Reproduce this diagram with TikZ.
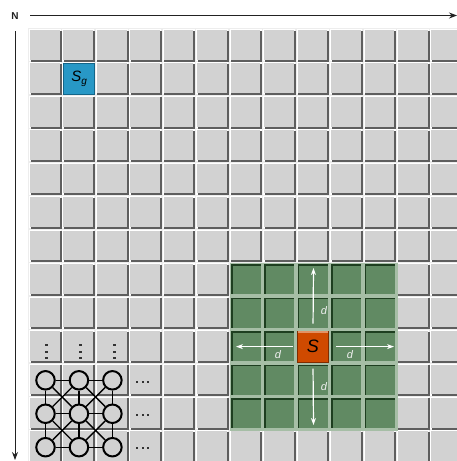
\documentclass[tikz,border=0pt]{standalone}
\usepackage{fontspec}
\setmainfont{Liberation Sans}
\usetikzlibrary{arrows.meta}
\definecolor{cellgray}{HTML}{D2D2D2}
\definecolor{cellshadow}{HTML}{5E5E5E}
\definecolor{gridbg}{HTML}{EDEDED}
\definecolor{greenfill}{HTML}{618A63}
\definecolor{greendark}{HTML}{1E3E20}
\definecolor{greenlight}{HTML}{A6BEA6}
\definecolor{sorange}{HTML}{CF4A00}
\definecolor{sorangedark}{HTML}{7E2C00}
\definecolor{sblue}{HTML}{2898C6}
\definecolor{sbluedark}{HTML}{146588}
\definecolor{axisgray}{HTML}{222222}
\pgfdeclarelayer{gridlayer}
\pgfdeclarelayer{edgelayer}
\pgfsetlayers{gridlayer,edgelayer,main}
\tikzset{
  axisline/.style={draw=axisgray, line width=1pt, -{Stealth[length=8pt,width=6pt]}},
  darrow/.style={draw=white, line width=1.2pt, -{Stealth[length=7pt,width=5pt]}},
  dlabel/.style={text=white!94!black, font=\fontsize{11}{11}\selectfont\itshape, inner sep=0pt},
  scell/.style={rectangle, minimum size=31pt, inner sep=0pt, fill=sorange, draw=sorangedark, line width=1pt, font=\fontsize{18}{18}\selectfont\itshape},
  sgcell/.style={rectangle, minimum size=31pt, inner sep=0pt, fill=sblue, draw=sbluedark, line width=1pt},
  gnode/.style={circle, minimum size=18.5pt, inner sep=0pt, fill=cellgray, draw=black, line width=2pt},
  gedge/.style={draw=black, line width=1.4pt},
  dotmark/.style={fill=black!80}
}
\begin{document}
\begin{tikzpicture}[x=1pt,y=-1pt]
\useasboundingbox (0,0) rectangle (457,461);
\begin{pgfonlayer}{gridlayer}
\fill[white] (0,0) rectangle (457,461);
\begin{scope}
\clip (0,0) rectangle (457,461);
\fill[gridbg] (28,28) rectangle (457,461);
\foreach \c in {0,...,12} {
  \foreach \r in {0,...,12} {
    \pgfmathsetmacro\x{29+\c*33.45}
    \pgfmathsetmacro\y{29+\r*33.45}
    \fill[white] (\x,\y) rectangle (\x+32,\y+32);
    \fill[cellshadow] (\x+1.5,\y+1.5) rectangle (\x+32.6,\y+32.6);
    \fill[cellgray] (\x+1,\y+1) rectangle (\x+30.6,\y+30.6);
  }
}
% green neighbourhood
\fill[greenlight] (229.7,263.15) rectangle (397.5,431);
\foreach \c in {6,...,10} {
  \foreach \r in {7,...,11} {
    \pgfmathsetmacro\x{29+\c*33.45}
    \pgfmathsetmacro\y{29+\r*33.45}
    \fill[greendark] (\x+1.3,\y+1.3) rectangle (\x+31,\y+31);
    \fill[greenfill] (\x+2.8,\y+2.8) rectangle (\x+31,\y+31);
  }
}
\end{scope}
\end{pgfonlayer}

% axes
\node[font=\fontsize{10}{10}\selectfont\bfseries, text=axisgray, inner sep=0pt] (N) at (15,16) {N};
\coordinate (hstart) at (30,15.5);
\coordinate (hend) at (457,15.5);
\coordinate (vstart) at (15,31);
\coordinate (vend) at (15,460);
\draw[axisline] (hstart) -- (hend);
\draw[axisline] (vstart) -- (vend);

% S_g cell
\node[sgcell] (Sg) at (79.2,78.9) {\fontsize{15}{15}\selectfont\itshape S\raisebox{-2.5pt}{\fontsize{10}{10}\selectfont g}};

% S cell
\node[scell] (S) at (313.0,346.6) {S};
\draw[sorange!60!white, line width=1.2pt] ([xshift=1pt,yshift=-1.3pt]S.north west) -- ([xshift=-1pt,yshift=-1.3pt]S.north east);

% d arrows
\coordinate (upend) at (313.5,268);
\coordinate (downend) at (313.5,425);
\coordinate (leftend) at (236,346.6);
\coordinate (rightend) at (394,346.6);
\draw[darrow, shorten <=7pt] (S.north) -- (upend);
\draw[darrow, shorten <=6pt] (S.south) -- (downend);
\draw[darrow, shorten <=4pt] (S.west) -- (leftend);
\draw[darrow, shorten <=7pt] (S.east) -- (rightend);
\node[dlabel] (dup) at (324,311) {d};
\node[dlabel] (ddown) at (324,387) {d};
\node[dlabel] (dleft) at (278,355) {d};
\node[dlabel] (dright) at (350,355) {d};

% lattice graph
\foreach \c in {0,1,2} {
  \foreach \r in {0,1,2} {
    \pgfmathsetmacro\x{29+\c*33.45+16.5}
    \pgfmathsetmacro\y{29+(\r+10)*33.45+16.8}
    \node[gnode] (g-\c-\r) at (\x,\y) {};
  }
}
\begin{pgfonlayer}{edgelayer}
\foreach \c in {0,1,2} {
  \foreach \r in {0,1} {
    \pgfmathtruncatemacro\rn{\r+1}
    \draw[gedge] (g-\c-\r) -- (g-\c-\rn);
    \draw[gedge] (g-\r-\c) -- (g-\rn-\c);
  }
}
\foreach \c in {0,1} {
  \foreach \r in {0,1} {
    \pgfmathtruncatemacro\cn{\c+1}
    \pgfmathtruncatemacro\rn{\r+1}
    \draw[gedge] (g-\c-\r) -- (g-\cn-\rn);
    \draw[gedge] (g-\cn-\r) -- (g-\c-\rn);
  }
}
\end{pgfonlayer}

% vertical ellipsis dots (row 9, columns 0-2)
\foreach \xx in {46.5,80.5,114.5} {
  \foreach \yy in {345,351.6,358.2} {
    \fill[dotmark] (\xx-1.1,\yy-1.1) rectangle (\xx+1.1,\yy+1.1);
  }
}
% horizontal ellipsis dots (column 3, rows 10-12)
\foreach \yy in {381.7,415,448.3} {
  \foreach \xx in {137.3,142.8,148.3} {
    \fill[dotmark] (\xx-1.1,\yy-1.1) rectangle (\xx+1.1,\yy+1.1);
  }
}
\end{tikzpicture}
\end{document}
